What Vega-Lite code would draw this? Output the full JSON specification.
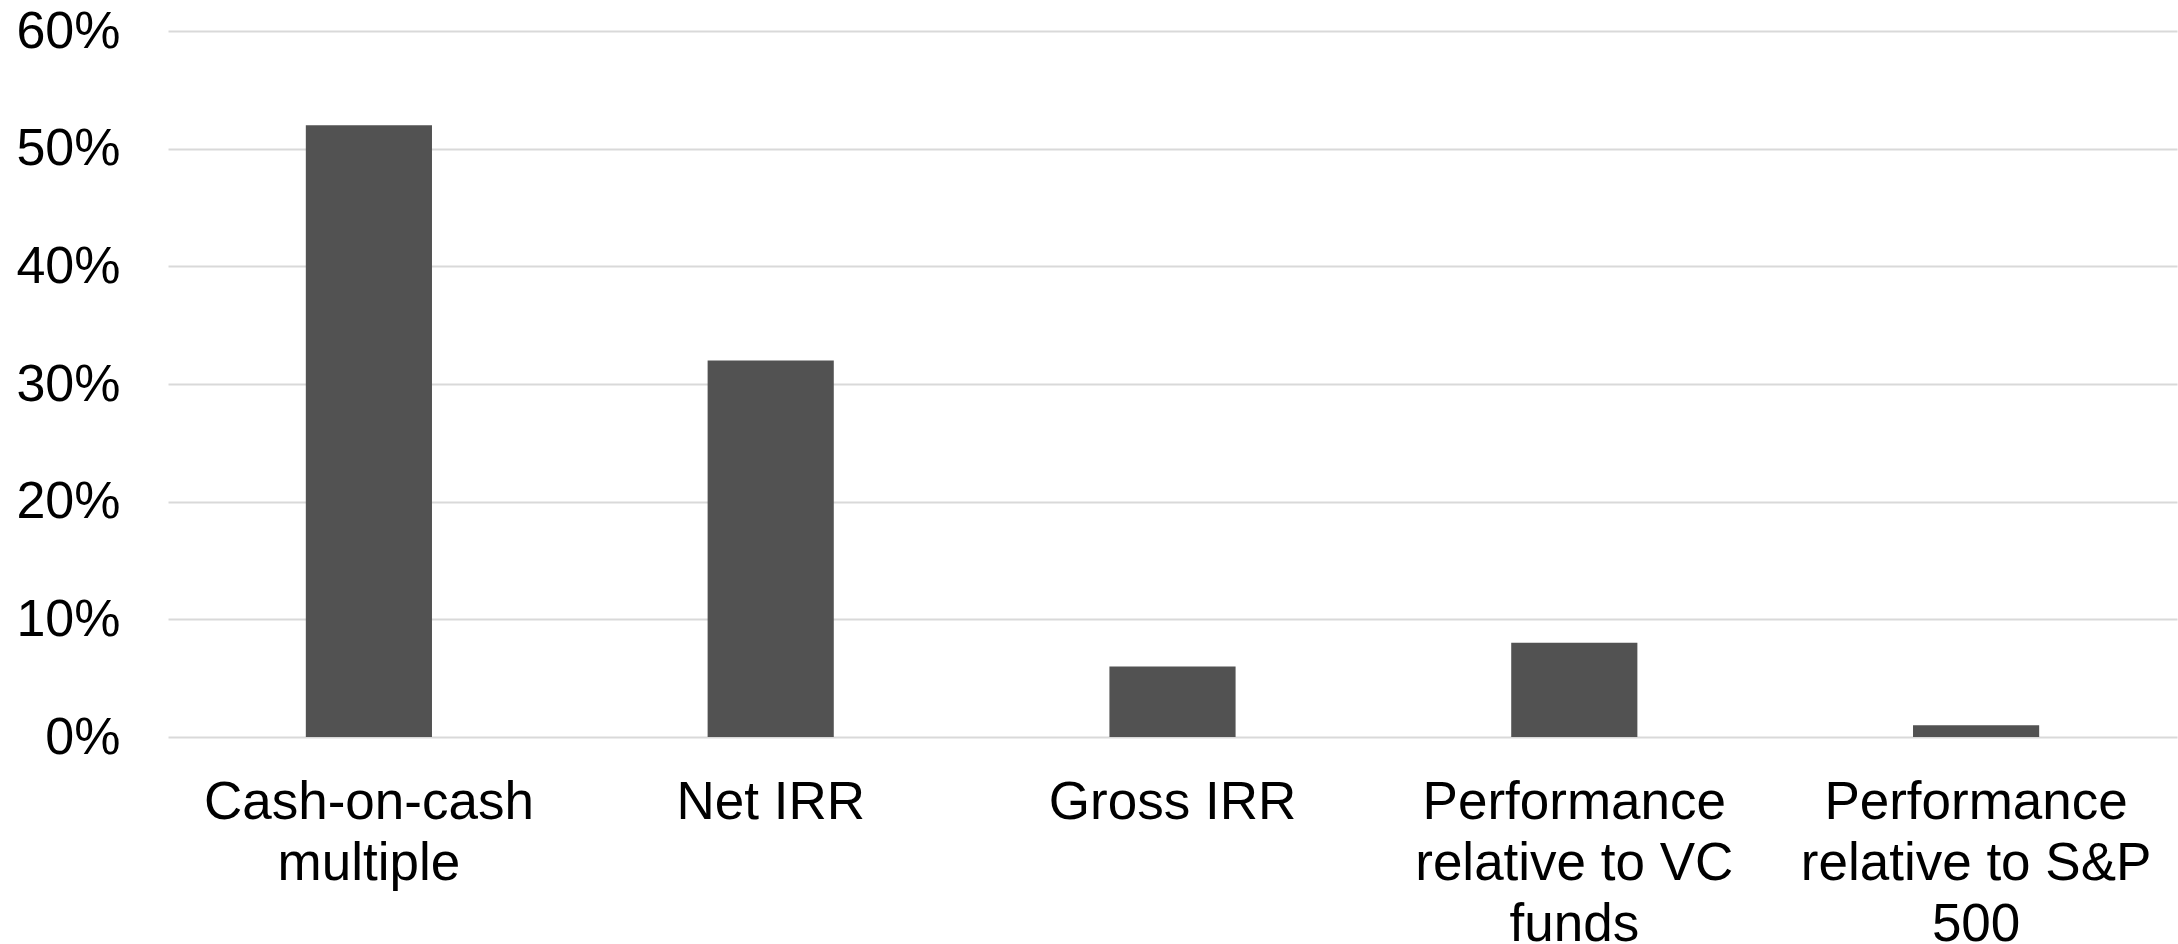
{
  "$schema": "https://vega.github.io/schema/vega-lite/v6.json",
  "width": 2009,
  "height": 706,
  "autosize": {"type": "none"},
  "padding": {"left": 168, "top": 31, "right": 1, "bottom": 207},
  "background": "white",
  "data": {
    "values": [
      {"measure": "Cash-on-cash\nmultiple", "share": 0.52},
      {"measure": "Net IRR", "share": 0.32},
      {"measure": "Gross IRR", "share": 0.06},
      {"measure": "Performance\nrelative to VC\nfunds", "share": 0.08},
      {"measure": "Performance\nrelative to S&P\n500", "share": 0.01}
    ]
  },
  "mark": {"type": "bar", "color": "#525252"},
  "encoding": {
    "x": {
      "field": "measure",
      "type": "nominal",
      "sort": null,
      "title": null,
      "scale": {"paddingInner": 0.686, "paddingOuter": 0.343},
      "axis": {
        "labelAngle": 0,
        "labelExpr": "split(datum.value, '\\n')",
        "labelFont": "Liberation Sans",
        "labelFontSize": 53,
        "labelLineHeight": 61,
        "labelColor": "#000000",
        "labelPadding": 39,
        "labelBaseline": "top",
        "labelLimit": 0,
        "ticks": false,
        "domain": false,
        "grid": false
      }
    },
    "y": {
      "field": "share",
      "type": "quantitative",
      "title": null,
      "scale": {"domain": [0, 0.6], "nice": false},
      "axis": {
        "values": [0, 0.1, 0.2, 0.3, 0.4, 0.5, 0.6],
        "format": ".0%",
        "labelFont": "Liberation Sans",
        "labelFontSize": 52,
        "labelColor": "#000000",
        "labelPadding": 48,
        "ticks": false,
        "domain": false,
        "grid": true,
        "gridColor": "#d9d9d9",
        "gridWidth": 2
      }
    }
  },
  "config": {"view": {"stroke": null}}
}
